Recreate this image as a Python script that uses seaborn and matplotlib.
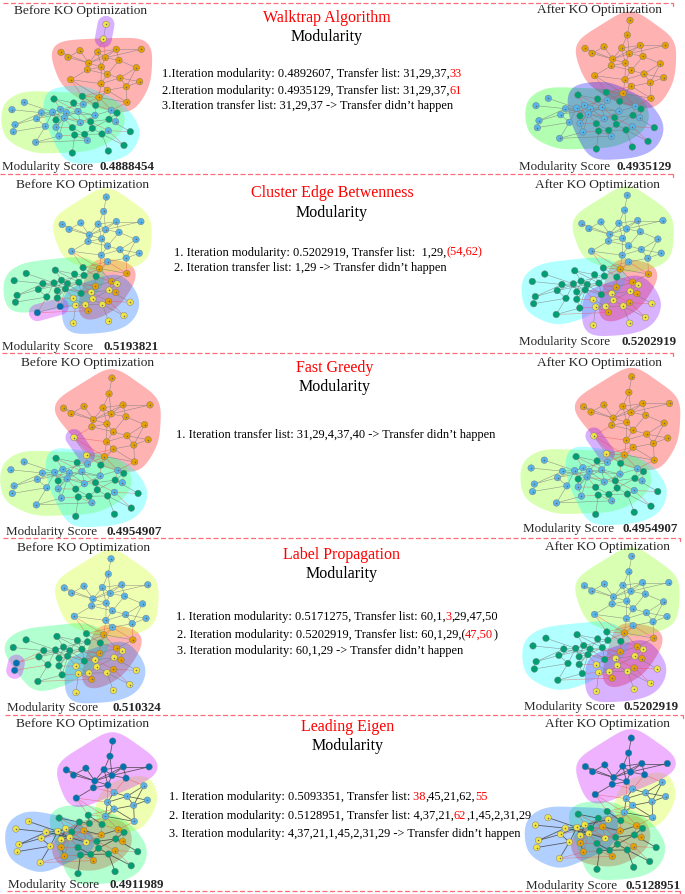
import numpy as np
import pandas as pd
import seaborn as sns
import matplotlib
matplotlib.use('Agg')
import matplotlib.pyplot as plt
from matplotlib.collections import LineCollection

sns.set_style('white')
plt.rcParams['font.family'] = ['Liberation Serif', 'DejaVu Sans']

# node positions (3x zoom pixels)
node_x = [318, 310, 183, 204, 240, 293, 349, 424, 266, 316, 357, 262, 304, 409, 322, 360, 212, 303, 379, 419, 322, 297, 381,
          36, 73, 124, 110, 158, 181, 199, 234, 250, 193, 136, 168, 45, 40, 177, 107, 262, 285, 241, 334, 347, 325,
          162, 221, 247, 287, 351, 327, 272, 217, 277, 224, 254, 306, 391, 372, 325, 217, 168]
node_y = [76, 120, 160, 175, 155, 159, 151, 151, 192, 176, 184, 212, 204, 206, 226, 237, 242, 254, 263, 248, 274, 295, 310,
          332, 310, 341, 359, 339, 331, 341, 337, 316, 357, 382, 385, 377, 398, 411, 430, 424, 349, 371, 334, 368, 395,
          300, 312, 292, 319, 342, 361, 368, 386, 388, 408, 406, 405, 398, 439, 456, 462, 363]

edges = [(0, 1), (1, 5), (1, 9), (2, 8), (3, 8), (4, 8), (2, 3), (5, 8), (5, 9), (5, 12), (6, 9), (6, 10), (6, 8), (7, 9),
         (7, 6), (9, 8), (9, 12), (9, 10), (8, 11), (8, 12), (11, 12), (12, 14), (10, 14), (11, 14), (14, 15), (13, 15),
         (13, 18), (12, 17), (14, 17), (15, 17), (15, 18), (16, 11), (16, 17), (17, 20), (17, 21), (18, 19), (18, 20),
         (18, 22), (15, 19), (20, 21), (21, 22), (20, 22), (10, 13), (5, 6), (16, 21), (3, 4),
         (23, 25), (24, 27), (25, 27), (26, 28), (25, 32), (26, 29), (27, 28), (27, 32), (28, 29), (29, 30), (30, 32),
         (32, 41), (33, 27), (33, 26), (35, 25), (36, 33), (35, 26), (34, 29), (34, 32), (37, 32), (37, 34), (38, 33),
         (38, 37), (38, 39), (39, 54), (39, 55), (40, 29), (40, 41), (40, 48), (40, 51), (41, 30), (42, 50), (42, 40),
         (43, 50), (43, 49), (44, 51), (44, 56), (44, 57), (31, 46), (31, 47), (45, 46), (45, 30), (46, 30), (47, 48),
         (48, 42), (49, 50), (50, 51), (50, 53), (51, 53), (51, 41), (52, 41), (52, 55), (53, 55), (53, 56), (54, 55),
         (55, 56), (56, 58), (56, 59), (54, 60), (54, 37), (52, 34), (61, 32), (61, 27), (61, 34), (61, 28), (57, 50),
         (58, 44), (45, 28), (46, 29), (30, 51), (32, 52), (32, 51), (29, 41), (28, 31), (31, 30), (30, 40),
         (21, 47), (21, 31), (21, 48), (20, 47), (22, 42), (21, 42), (16, 47), (20, 48)]

# communities: orange, sky, teal, yellow, navy
wt_after = {'orange': list(range(23)), 'sky': list(range(23, 45)), 'teal': list(range(45, 62))}
wt_before = {'orange': list(range(2, 23)), 'sky': list(range(23, 45)), 'teal': list(range(45, 62)), 'yellow': [0, 1]}
fg_groups = {'orange': [0, 1, 2, 3, 4, 5, 6, 7, 8, 9, 10, 11, 12, 13, 14, 15, 17, 18, 19, 20, 21, 22],
             'sky': list(range(23, 45)), 'teal': [45, 46, 48, 49, 50, 51, 52, 53, 54, 55, 56, 57, 58, 59, 60, 61],
             'yellow': [16, 47]}
ceb_orange = [21, 22, 39, 40, 42, 43, 44]
ceb_yellow = [49, 50, 51, 52, 53, 54, 55, 56, 57, 58, 59, 60]
ceb_sky = list(range(21))
ceb_before = {'orange': ceb_orange, 'sky': ceb_sky, 'yellow': ceb_yellow, 'navy': [37, 38],
              'teal': [23, 24, 25, 26, 27, 28, 29, 30, 31, 32, 33, 34, 35, 36, 41, 45, 46, 47, 48, 61]}
ceb_after = {'orange': ceb_orange, 'sky': ceb_sky, 'yellow': ceb_yellow,
             'teal': [23, 24, 25, 26, 27, 28, 29, 30, 31, 32, 33, 34, 35, 36, 37, 38, 41, 45, 46, 47, 48, 61]}
lp_before = {'orange': ceb_orange, 'sky': ceb_sky, 'yellow': ceb_yellow, 'navy': [35, 36],
             'teal': [23, 24, 25, 26, 27, 28, 29, 30, 31, 32, 33, 34, 37, 38, 41, 45, 46, 47, 48, 61]}
le_before = {'orange': [30, 34, 37, 39, 40, 42, 43, 44], 'sky': [13, 14, 15, 17, 18, 19, 20, 21, 22],
             'teal': [29, 31, 45, 46, 47, 48, 49, 50, 51, 52, 53, 54, 55, 56, 57, 58, 59, 60],
             'yellow': [23, 24, 25, 26, 27, 28, 32, 33, 35, 36, 38, 41, 61],
             'navy': [0, 1, 2, 3, 4, 5, 6, 7, 8, 9, 10, 11, 12, 16]}
le_after = {'orange': le_before['orange'], 'sky': le_before['sky'],
            'teal': [c for c in le_before['teal'] if c != 31],
            'yellow': le_before['yellow'] + [31], 'navy': le_before['navy']}

node_colors = {'orange': '#E69F00', 'sky': '#56B4E9', 'teal': '#009E73', 'yellow': '#F0E442', 'navy': '#0072B2'}
blobs_3 = {'orange': '#FF0000', 'sky': '#00FF00', 'teal': '#0000FF'}
blobs_4 = {'orange': '#FF0000', 'sky': '#80FF00', 'teal': '#00FFFF', 'yellow': '#8000FF'}
blobs_5 = {'orange': '#FF0000', 'sky': '#CCFF00', 'teal': '#00FF66', 'yellow': '#0066FF', 'navy': '#CC00FF'}

titles = ['Walktrap Algorithm', 'Cluster Edge Betwenness', 'Fast Greedy', 'Label Propagation', 'Leading Eigen']
scores_before = ['0.4888454', '0.5193821', '0.4954907', '0.510324', '0.4911989']
scores_after = ['0.4935129', '0.5202919', '0.4954907', '0.5202919', '0.5128951']

R = '#FF0000'
K = '#000000'
iter_lines = [
    [[('1.Iteration modularity: 0.4892607, Transfer list: 31,29,37,', K), ('33', R)],
     [('2.Iteration modularity: 0.4935129, Transfer list: 31,29,37,', K), ('61', R)],
     [('3.Iteration transfer list: 31,29,37 -> Transfer didn’t happen', K)]],
    [[('1. Iteration modularity: 0.5202919, Transfer list:  1,29,', K), ('(54,62)', R)],
     [('2. Iteration transfer list: 1,29 -> Transfer didn’t happen', K)]],
    [[('1. Iteration transfer list: 31,29,4,37,40 -> Transfer didn’t happen', K)]],
    [[('1. Iteration modularity: 0.5171275, Transfer list: 60,1,', K), ('3', R), (',29,47,50', K)],
     [('2. Iteration modularity: 0.5202919, Transfer list: 60,1,29,(', K), ('47,50', R), (')', K)],
     [('3. Iteration modularity: 60,1,29 -> Transfer didn’t happen', K)]],
    [[('1. Iteration modularity: 0.5093351, Transfer list:', K), (' 38', R), (',45,21,62,', K), ('55', R)],
     [('2. Iteration modularity: 0.5128951, Transfer list: 4,37,21,', K), ('62', R), (',1,45,2,31,29', K)],
     [('3. Iteration modularity: 4,37,21,1,45,2,31,29 -> Transfer didn’t happen', K)]],
]

# layout, all in image pixels: scale, x shift, y shift of each network
panels = [
    (wt_before, blobs_4, 1.00, 0.0, 0.0),
    (wt_after, blobs_3, 1.00, 524.0, -4.0),
    (ceb_before, blobs_5, 0.98, 2.4, 173.2),
    (ceb_after, blobs_4, 1.01, 520.2, 170.7),
    (fg_groups, blobs_4, 1.075, -2.0, 351.8),
    (fg_groups, blobs_4, 1.07, 518.3, 350.6),
    (lp_before, blobs_5, 1.04, 0.8, 533.4),
    (ceb_after, blobs_4, 1.05, 520.4, 530.7),
    (le_before, blobs_5, 1.03, 3.5, 716.0),
    (le_after, blobs_5, 1.02, 523.2, 713.2),
]
heading_pos = [(81, 11), (600, 10), (82.5, 185), (598, 185), (87.7, 363), (600, 363),
               (83.8, 548), (607.5, 546.7), (82.3, 723.7), (607.5, 723.7)]
score_pos = [(2, 100, 167), (519, 617, 167), (2, 104, 346.7), (519, 621.7, 341.7), (6, 106.7, 531.7),
             (523, 622.7, 529.3), (7.3, 112.7, 708.3), (524, 623.3, 707), (8, 110, 885), (526.3, 626, 885.7)]
title_pos = [(326.5, 18, 37), (332, 193, 212.7), (335, 368.3, 387.3), (341.5, 555, 574.3), (348, 727.3, 746)]
iter_pos = [[(161.7, 74.3), (161.7, 90.7), (161.7, 106)], [(174.3, 252.7), (174.3, 268)], [(175.7, 435)],
            [(175.7, 616.7), (176.7, 635), (176.7, 651)], [(169, 796.7), (169, 815.7), (169, 834)]]
dash_lines = [(3, 673, 4), (0, 673, 175), (2, 673, 354), (3, 680, 538.5), (5, 683, 716), (7, 680, 891.5)]


def hull(pts):
    pts = sorted(set(map(tuple, np.round(pts, 3))))
    def half(seq):
        out = []
        for p in seq:
            while len(out) > 1 and ((out[-1][0] - out[-2][0]) * (p[1] - out[-2][1])
                                    - (out[-1][1] - out[-2][1]) * (p[0] - out[-2][0])) <= 0:
                out.pop()
            out.append(p)
        return out[:-1]
    return np.array(half(pts) + half(pts[::-1]))


def blob_outline(pts):
    # igraph style mark: hull pushed out by a ring, then corners rounded with a running mean
    small = len(pts) <= 2
    r = 8.5 if small else 11.5
    ang = np.linspace(0, 2 * np.pi, 24, endpoint=False)
    ring = np.column_stack([np.cos(ang), np.sin(ang)]) * r
    poly = hull(np.vstack([p + ring for p in pts]))
    if small:
        return poly
    closed = np.vstack([poly, poly[:1]])
    dist = np.r_[0, np.cumsum(np.hypot(*np.diff(closed, axis=0).T))]
    t = np.arange(0, dist[-1], 1.0)
    line = np.column_stack([np.interp(t, dist, closed[:, 0]), np.interp(t, dist, closed[:, 1])])
    win = np.ones(22) / 22
    for _ in range(2):
        line = np.column_stack([np.convolve(np.r_[line[-22:, k], line[:, k], line[:22, k]], win, 'same')[22:-22]
                                for k in (0, 1)])
    return line


def draw_network(ax, groups, blob_cols, scale, dx, dy, dark):
    xs = np.array(node_x) / 3 * scale + dx
    ys = np.array(node_y) / 3 * scale + dy
    member = {}
    for name, ids in groups.items():
        for i in ids:
            member[i] = name
    for name in ['orange', 'sky', 'teal', 'yellow', 'navy']:
        if name in groups:
            ids = groups[name]
            o = blob_outline(np.column_stack([xs[ids], ys[ids]]))
            ax.fill(o[:, 0], o[:, 1], color=blob_cols[name], alpha=0.3, lw=0, zorder=1)
    same = [[(xs[a], ys[a]), (xs[b], ys[b])] for a, b in edges if member[a] == member[b]]
    diff = [[(xs[a], ys[a]), (xs[b], ys[b])] for a, b in edges if member[a] != member[b]]
    ax.add_collection(LineCollection(same, colors='#333333' if dark else '#777777',
                                     linewidths=0.6 if dark else 0.4, alpha=0.75, zorder=2))
    ax.add_collection(LineCollection(diff, colors='#F04040', linewidths=0.45, alpha=0.5, zorder=2))
    df = pd.DataFrame({'x': xs, 'y': ys, 'group': [member[i] for i in range(len(xs))]})
    sns.scatterplot(data=df, x='x', y='y', hue='group', palette=node_colors, s=22, edgecolor='#777777',
                    linewidth=0.3, legend=False, ax=ax, zorder=3)
    lit = df[df['group'].isin(['orange', 'sky', 'yellow'])]
    sns.scatterplot(data=lit, x='x', y='y', color='#666666', s=1.2, linewidth=0, legend=False, ax=ax, zorder=4)


def colored_line(ax, x, y, parts, size):
    rend = ax.figure.canvas.get_renderer()
    for txt, col in parts:
        t = ax.text(x, y, txt, color=col, fontsize=size, ha='left', va='center', zorder=6)
        x += t.get_window_extent(rend).width


fig = plt.figure(figsize=(6.85, 8.95), dpi=100)
ax = fig.add_axes([0, 0, 1, 1])

for i, (groups, blob_cols, scale, dx, dy) in enumerate(panels):
    draw_network(ax, groups, blob_cols, scale, dx, dy, i >= 8)

ax.set_xlim(0, 685)
ax.set_ylim(895, 0)
ax.axis('off')

for i, (x, y) in enumerate(heading_pos):
    ax.text(x, y, 'Before KO Optimization' if i % 2 == 0 else 'After KO Optimization',
            fontsize=9.6, ha='center', va='center', zorder=6)

all_scores = [s for pair in zip(scores_before, scores_after) for s in pair]
for (x1, x2, y), s in zip(score_pos, all_scores):
    ax.text(x1, y, 'Modularity Score', fontsize=9.4, ha='left', va='center', zorder=6)
    ax.text(x2, y, s, fontsize=9.4, fontweight='bold', ha='left', va='center', zorder=6)

for name, (x, y1, y2) in zip(titles, title_pos):
    ax.text(x, y1, name, color='#FF0000', fontsize=11.5, ha='center', va='center', zorder=6)
    ax.text(x, y2, 'Modularity', color='black', fontsize=11.5, ha='center', va='center', zorder=6)

for lines, pos in zip(iter_lines, iter_pos):
    for parts, (x, y) in zip(lines, pos):
        colored_line(ax, x, y, parts, 8.9)

for x1, x2, y in dash_lines:
    ax.plot([x1, x2], [y, y], color='#FF6B78', lw=0.9, ls=(0, (4, 2)), zorder=5)
    ax.plot([x2, x2], [y, y + 3], color='#FF6B78', lw=0.9, zorder=5)

fig.savefig('out.png', dpi=100)
